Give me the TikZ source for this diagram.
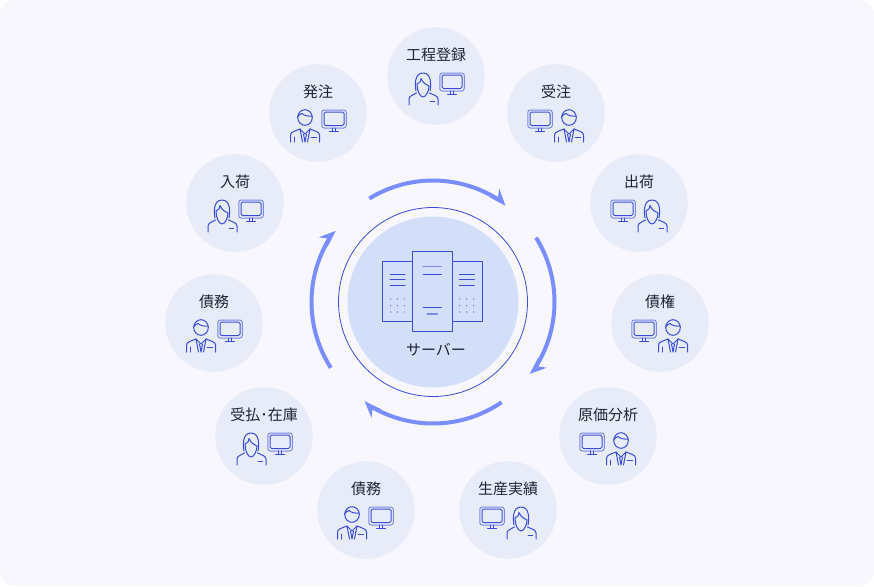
\documentclass[tikz,border=0pt]{standalone}
\usepackage{fontspec}
\setmainfont{Noto Sans CJK JP}
\usetikzlibrary{arrows.meta}
\definecolor{panelbg}{HTML}{F7F7FD}
\definecolor{stationbg}{HTML}{E7ECF8}
\definecolor{serverbg}{HTML}{D3DFF8}
\definecolor{cyclecol}{HTML}{7B8EFF}
\definecolor{iconcol}{HTML}{3A4BD6}
\definecolor{iconpale}{HTML}{7A88E6}
\definecolor{labelcol}{HTML}{1F2430}
\tikzset{
    station/.style={circle, fill=stationbg, minimum size=97.5pt, inner sep=0pt},
    stationlabel/.style={text=labelcol, font=\fontsize{15}{15}\selectfont, inner sep=0pt},
    cyclearc/.style={line width=4pt, cyclecol},
    iconline/.style={iconcol, line width=1pt, line cap=round, line join=round},
    cyclehead/.pic={
        \fill[cyclecol] (0pt,0pt) -- (-17pt,6.5pt) -- (-11.5pt,0pt) -- (-17pt,-6.5pt) -- cycle;
    },
    woman/.pic={
        \draw[iconline] (-7,-14) .. controls (-8,-19) and (-9,-32) .. (0,-32) .. controls (9,-32) and (8,-19) .. (7,-14);
        \draw[iconline] (-6,-21) .. controls (-6,-14) and (-3,-8) .. (0,-8) .. controls (3,-8) and (6,-14) .. (6,-19);
        \draw[iconline] (-6,-21) .. controls (-3,-22) and (-2,-24) .. (-2,-26.5) .. controls (0,-22) and (3,-20) .. (6,-19);
        \draw[iconline] (-14,0) -- (-14,-6) .. controls (-14,-9) and (-10,-10) .. (-6.5,-12);
        \draw[iconline] (15,0) -- (15,-6) .. controls (15,-9) and (11,-10) .. (6.5,-12);
        \draw[iconline] (7,-4) -- (11.5,-4);
    },
    man/.pic={
        \draw[iconline] (0,-24.5) ellipse[x radius=7.3pt, y radius=7.8pt];
        \draw[iconline] (-7.2,-25.5) .. controls (-6,-27) and (-4.5,-28) .. (-3,-28.5) .. controls (-1,-26.5) and (3,-25.5) .. (7.2,-26);
        \draw[iconline] (-14.5,0) -- (-14.5,-7) .. controls (-14.5,-10) and (-10,-11) .. (-5,-13);
        \draw[iconline] (14.5,0) -- (14.5,-7) .. controls (14.5,-10) and (10,-11) .. (5,-13);
        \draw[iconline] (-5,-13) -- (-2.5,0) (5,-13) -- (2.5,0);
        \draw[iconline] (-5,-13) -- (0,-8) -- (5,-13);
        \draw[iconline] (-1.5,-8) -- (0,0) -- (1.5,-8);
        \draw[iconline] (-11,0) -- (-11,-5) (6,-4.5) -- (11.5,-4.5);
    },
    monitor/.pic={
        \draw[iconline, iconpale, rounded corners=2.5pt] (-12.25,-9) rectangle (12.25,9);
        \draw[iconline, rounded corners=1.5pt] (-10,-7) rectangle (10,6.5);
        \draw[iconline] (-1.5,9) -- (-1.5,12.5) (1.5,9) -- (1.5,12.5);
        \draw[iconline] (-4.5,12.8) -- (4.5,12.8);
    },
}
\begin{document}
\begin{tikzpicture}[x=1pt,y=-1pt]
    \useasboundingbox (0,0) rectangle (874,586);
    \fill[panelbg, rounded corners=14pt] (0,0) rectangle (874,586);

    % stations round the server
    \foreach \nm/\px/\py/\txt/\who/\whox/\scrx in {
        koutei/436/76/工程登録/woman/-13/16,
        hatchu/318/113/発注/man/-13/16,
        juchu/556/113/受注/man/13/-16,
        nyuka/235/203/入荷/woman/-13/16,
        shukka/639/203/出荷/woman/13/-16,
        saimuA/214/323/債務/man/-13/16,
        saiken/660/323/債権/man/13/-16,
        ukeharai/264/436/受払･在庫/woman/-13/16,
        genka/608/436/原価分析/man/13/-16,
        saimuB/366/510/債務/man/-14/15,
        seisan/508/510/生産実績/woman/13/-16%
    }{
        \node[station] (\nm) at (\px,\py) {};
        \node[stationlabel] (\nm-label) at ([yshift=21.5pt]\nm.center) {\txt};
        \path ([shift={(\whox,29)}]\nm.center) pic {\who};
        \path ([shift={(\scrx,6)}]\nm.center) pic {monitor};
    }

    \node[circle, fill=serverbg, minimum size=171pt, inner sep=0pt] (server) at (433,302) {};
    \node[circle, draw=iconcol, line width=0.8pt, minimum size=189pt, inner sep=0pt] (ring) at (server.center) {};
    \node[stationlabel] (serverlabel) at (436,350) {サーバー};

    % server racks
    \draw[iconline, fill=serverbg] (382.3,261) rectangle (412.3,321.7);
    \draw[iconline, fill=serverbg] (452,261) rectangle (482,321.7);
    \draw[iconline, fill=serverbg] (412.3,251.7) rectangle (452,331.3);
    \foreach \ly in {274,279.7,285.7}{
        \draw[iconline] (390,\ly) -- (405,\ly);
        \draw[iconline] (459.3,\ly) -- (474.3,\ly);
    }
    \foreach \ly in {299,305.7,312}{
        \foreach \lx in {390.7,397.5,404.3,459.7,466.7,473.7}{
            \fill[iconcol] (\lx,\ly) circle[radius=0.55pt];
        }
    }
    \draw[iconline, iconpale, line width=1.3pt] (423,266.7) -- (441.3,266.7);
    \draw[iconline] (423,274) -- (441.3,274) (423,307) -- (441.3,307);
    \draw[iconline, iconpale, line width=1.3pt] (427.3,314) -- (437.3,314);

    % flow arrows, clockwise
    \foreach \from/\to in {121.6/53, 32/-36.7, -55.6/-124.6, 212.8/143.8}{
        \pgfmathsetmacro{\arcend}{\to+5}
        \pgfmathsetmacro{\headrot}{\to-102}
        \draw[cyclearc] ([shift={(\from:121.5pt)}]server.center) arc[start angle=\from, end angle=\arcend, radius=121.5pt];
        \path ([shift={(\to:120.5pt)}]server.center) pic[rotate=\headrot] {cyclehead};
    }
\end{tikzpicture}
\end{document}
